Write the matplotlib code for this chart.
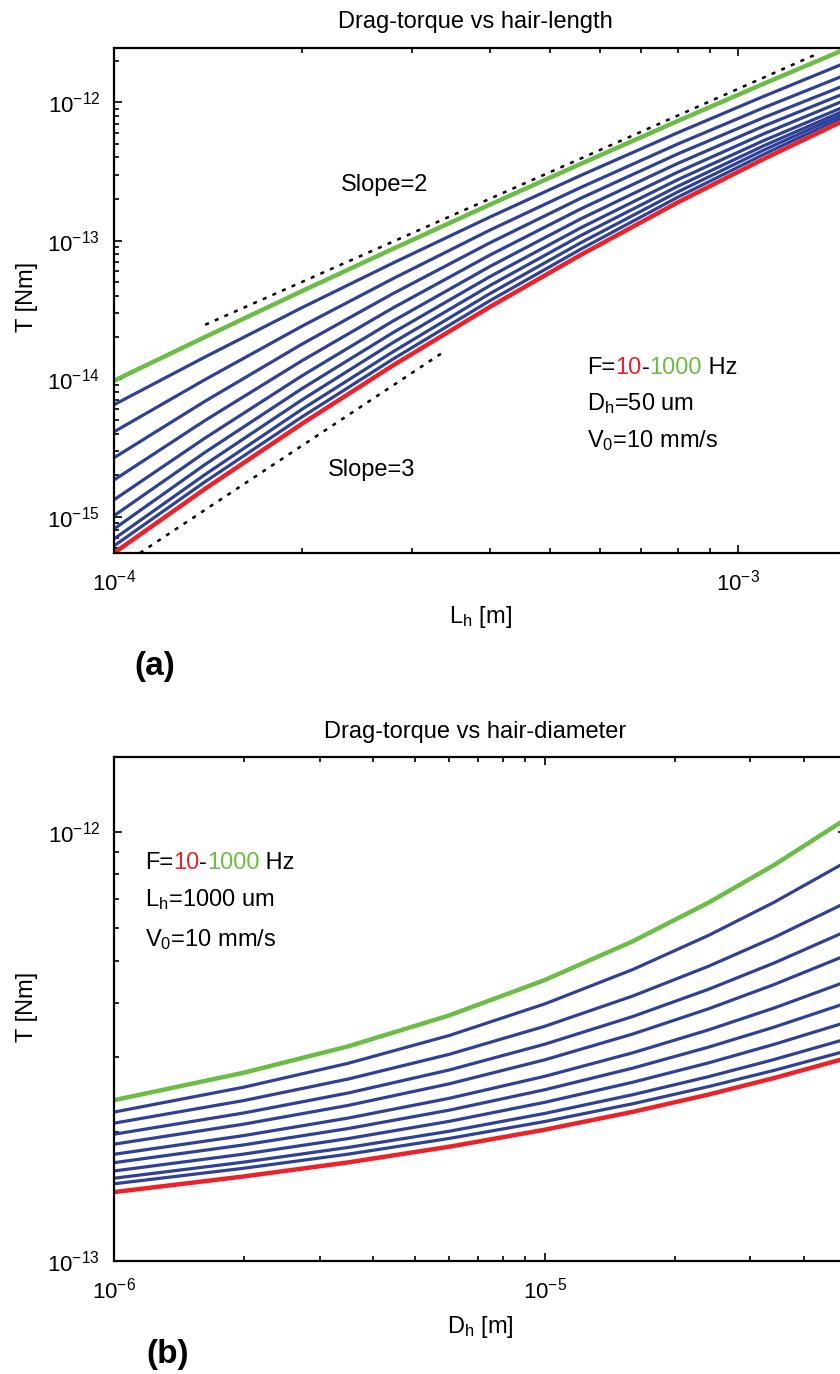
import matplotlib
matplotlib.use('Agg')
import matplotlib.pyplot as plt
from matplotlib.ticker import LogLocator, NullFormatter

plt.rcParams['font.family'] = ['Liberation Sans', 'DejaVu Sans']
plt.rcParams['mathtext.fontset'] = 'custom'
plt.rcParams['mathtext.rm'] = 'Liberation Sans'
plt.rcParams['mathtext.it'] = 'Liberation Sans:italic'
plt.rcParams['mathtext.bf'] = 'Liberation Sans:bold'

# ---- panel (a): torque vs hair length, F = 10 ... 1000 Hz (red -> green)
L_h = [1.0e-4, 1.4e-4, 2.0e-4, 2.8e-4, 4.0e-4, 5.6e-4, 8.0e-4, 1.1e-3, 1.5e-3]
T_len = [
    [5.48e-16, 1.60e-15, 4.72e-15, 1.25e-14, 3.31e-14, 7.90e-14, 1.89e-13, 3.91e-13, 7.64e-13],  # 10 Hz
    [6.17e-16, 1.80e-15, 5.29e-15, 1.39e-14, 3.67e-14, 8.69e-14, 2.06e-13, 4.22e-13, 8.15e-13],
    [6.93e-16, 2.03e-15, 6.01e-15, 1.57e-14, 4.13e-14, 9.67e-14, 2.25e-13, 4.53e-13, 8.56e-13],
    [8.18e-16, 2.40e-15, 7.03e-15, 1.83e-14, 4.72e-14, 1.09e-13, 2.47e-13, 4.87e-13, 8.97e-13],
    [1.02e-15, 2.94e-15, 8.48e-15, 2.16e-14, 5.48e-14, 1.24e-13, 2.76e-13, 5.31e-13, 9.57e-13],
    [1.33e-15, 3.73e-15, 1.05e-14, 2.62e-14, 6.49e-14, 1.44e-13, 3.13e-13, 5.94e-13, 1.06e-12],
    [1.85e-15, 5.00e-15, 1.35e-14, 3.26e-14, 7.85e-14, 1.70e-13, 3.62e-13, 6.76e-13, 1.19e-12],
    [2.68e-15, 6.89e-15, 1.78e-14, 4.14e-14, 9.63e-14, 2.03e-13, 4.24e-13, 7.79e-13, 1.36e-12],
    [4.13e-15, 9.88e-15, 2.40e-14, 5.31e-14, 1.19e-13, 2.43e-13, 5.00e-13, 9.18e-13, 1.61e-12],
    [6.49e-15, 1.44e-14, 3.27e-14, 6.89e-14, 1.48e-13, 2.97e-13, 6.04e-13, 1.11e-12, 1.97e-12],
    [9.68e-15, 2.01e-14, 4.31e-14, 8.73e-14, 1.82e-13, 3.60e-13, 7.34e-13, 1.37e-12, 2.48e-12],  # 1000 Hz
]
slope2_L = [1.4e-4, 1.33e-3]
slope2_T = [2.46e-14, 2.22e-12]
slope3_L = [1.1e-4, 3.4e-4]
slope3_T = [5.48e-16, 1.6e-14]

# ---- panel (b): torque vs hair diameter
D_h = [1.0e-6, 2.0e-6, 3.5e-6, 6.0e-6, 1.0e-5, 1.6e-5, 2.4e-5, 3.4e-5, 5.0e-5]
T_dia = [
    [1.448e-13, 1.575e-13, 1.699e-13, 1.848e-13, 2.025e-13, 2.229e-13, 2.446e-13, 2.672e-13, 2.973e-13],  # 10 Hz
    [1.514e-13, 1.646e-13, 1.776e-13, 1.932e-13, 2.116e-13, 2.328e-13, 2.553e-13, 2.784e-13, 3.090e-13],
    [1.560e-13, 1.701e-13, 1.841e-13, 2.008e-13, 2.210e-13, 2.444e-13, 2.693e-13, 2.951e-13, 3.295e-13],
    [1.622e-13, 1.776e-13, 1.931e-13, 2.118e-13, 2.346e-13, 2.613e-13, 2.900e-13, 3.202e-13, 3.605e-13],
    [1.696e-13, 1.866e-13, 2.038e-13, 2.249e-13, 2.510e-13, 2.819e-13, 3.156e-13, 3.512e-13, 3.996e-13],
    [1.774e-13, 1.962e-13, 2.156e-13, 2.397e-13, 2.698e-13, 3.061e-13, 3.463e-13, 3.892e-13, 4.485e-13],
    [1.873e-13, 2.086e-13, 2.308e-13, 2.591e-13, 2.948e-13, 3.386e-13, 3.878e-13, 4.415e-13, 5.167e-13],
    [1.976e-13, 2.215e-13, 2.467e-13, 2.791e-13, 3.206e-13, 3.720e-13, 4.307e-13, 4.956e-13, 5.877e-13],
    [2.097e-13, 2.368e-13, 2.659e-13, 3.036e-13, 3.530e-13, 4.153e-13, 4.875e-13, 5.685e-13, 6.858e-13],
    [2.226e-13, 2.544e-13, 2.894e-13, 3.359e-13, 3.981e-13, 4.788e-13, 5.754e-13, 6.867e-13, 8.531e-13],
    [2.373e-13, 2.750e-13, 3.170e-13, 3.742e-13, 4.526e-13, 5.573e-13, 6.861e-13, 8.388e-13, 1.075e-12],  # 1000 Hz
]

# decade ticks shown on each axis
xt_a = [1e-4, 1e-3]
yt_a = [1e-15, 1e-14, 1e-13, 1e-12]
xt_b = [1e-6, 1e-5]
yt_b = [1e-13, 1e-12]

RED = '#ec2228'
GREEN = '#6cbd45'
BLUE = '#2e4197'
FS = 17


def draw_curves(ax, x, curves):
    for T in curves[1:-1]:
        ax.plot(x, T, color=BLUE, lw=2.3)
    ax.plot(x, curves[0], color=RED, lw=3.2)
    ax.plot(x, curves[-1], color=GREEN, lw=3.2)


def style_axes(ax, xt, yt):
    ax.set_xscale('log')
    ax.set_yscale('log')
    ax.set_xticks(xt)
    ax.set_yticks(yt)
    for s in ax.spines.values():
        s.set_linewidth(1.6)
    ax.tick_params(which='both', direction='in', top=True, right=True,
                   labelsize=16, width=1.2)
    ax.tick_params(which='major', length=6)
    ax.tick_params(which='minor', length=3.5)
    ax.tick_params(axis='x', pad=12)
    ax.tick_params(axis='y', pad=10)
    for a in (ax.xaxis, ax.yaxis):
        a.set_minor_locator(LogLocator(base=10, subs=range(2, 10), numticks=20))
        a.set_minor_formatter(NullFormatter())


def color_line(ax, x, y, parts):
    # parts: list of (text, color) drawn one after another
    t = ax.text(x, y, parts[0][0], color=parts[0][1], fontsize=FS,
                transform=ax.transAxes, va='bottom', ha='left')
    for txt, c in parts[1:]:
        t = ax.annotate(txt, xy=(1, 0), xycoords=t, color=c, fontsize=FS,
                        va='bottom', ha='left')


fig = plt.figure(figsize=(8.4, 13.74), dpi=100)
W, H = 840.0, 1374.0

# panel (a)
ax1 = fig.add_axes([114 / W, 1 - 553 / H, 734 / W, 505 / H])
style_axes(ax1, xt_a, yt_a)
draw_curves(ax1, L_h, T_len)
ax1.plot(slope2_L, slope2_T, color='k', lw=1.8, ls=(0, (1.6, 2.6)))
ax1.plot(slope3_L, slope3_T, color='k', lw=1.8, ls=(0, (1.6, 2.6)))
ax1.set_xlim(1e-4, 1.5e-3)
ax1.set_ylim(T_len[0][0], T_len[-1][-1])
ax1.text(0.369, 0.729, 'Slope=2', transform=ax1.transAxes, fontsize=FS,
         ha='center', va='center')
ax1.text(0.351, 0.164, 'Slope=3', transform=ax1.transAxes, fontsize=FS,
         ha='center', va='center')
color_line(ax1, 0.645, 0.345, [('F=', 'k'), ('10', RED), ('-', 'k'),
                               ('1000', GREEN), (' Hz', 'k')])
ax1.text(0.645, 0.272, r'D$_\mathregular{h}$=50 um', transform=ax1.transAxes,
         fontsize=FS, va='bottom')
ax1.text(0.645, 0.199, r'V$_\mathregular{0}$=10 mm/s', transform=ax1.transAxes,
         fontsize=FS, va='bottom')

fig.text(475 / W, 1 - 28 / H, 'Drag-torque vs hair-length', fontsize=FS,
         ha='center', va='baseline')
fig.text(480 / W, 1 - 623 / H, r'L$_\mathregular{h}$ [m]', fontsize=FS,
         ha='center', va='baseline')
fig.text(27 / W, 1 - 297 / H, 'T [Nm]', fontsize=FS, rotation=90,
         ha='center', va='center')
fig.text(155 / W, 1 - 666 / H, '(a)', fontsize=24, fontweight='bold',
         ha='center', va='center')

# panel (b)
ax2 = fig.add_axes([114 / W, 1 - 1261 / H, 732 / W, 504 / H])
style_axes(ax2, xt_b, yt_b)
draw_curves(ax2, D_h, T_dia)
ax2.set_xlim(1e-6, 5e-5)
ax2.set_ylim(1e-13, 1.5e-12)
color_line(ax2, 0.042, 0.768, [('F=', 'k'), ('10', RED), ('-', 'k'),
                               ('1000', GREEN), (' Hz', 'k')])
ax2.text(0.042, 0.693, r'L$_\mathregular{h}$=1000 um', transform=ax2.transAxes,
         fontsize=FS, va='bottom')
ax2.text(0.042, 0.614, r'V$_\mathregular{0}$=10 mm/s', transform=ax2.transAxes,
         fontsize=FS, va='bottom')

fig.text(475 / W, 1 - 738 / H, 'Drag-torque vs hair-diameter', fontsize=FS,
         ha='center', va='baseline')
fig.text(480 / W, 1 - 1333 / H, r'D$_\mathregular{h}$ [m]', fontsize=FS,
         ha='center', va='baseline')
fig.text(27 / W, 1 - 1007 / H, 'T [Nm]', fontsize=FS, rotation=90,
         ha='center', va='center')
fig.text(168 / W, 1 - 1354 / H, '(b)', fontsize=24, fontweight='bold',
         ha='center', va='center')

fig.savefig('out.png', dpi=100)
